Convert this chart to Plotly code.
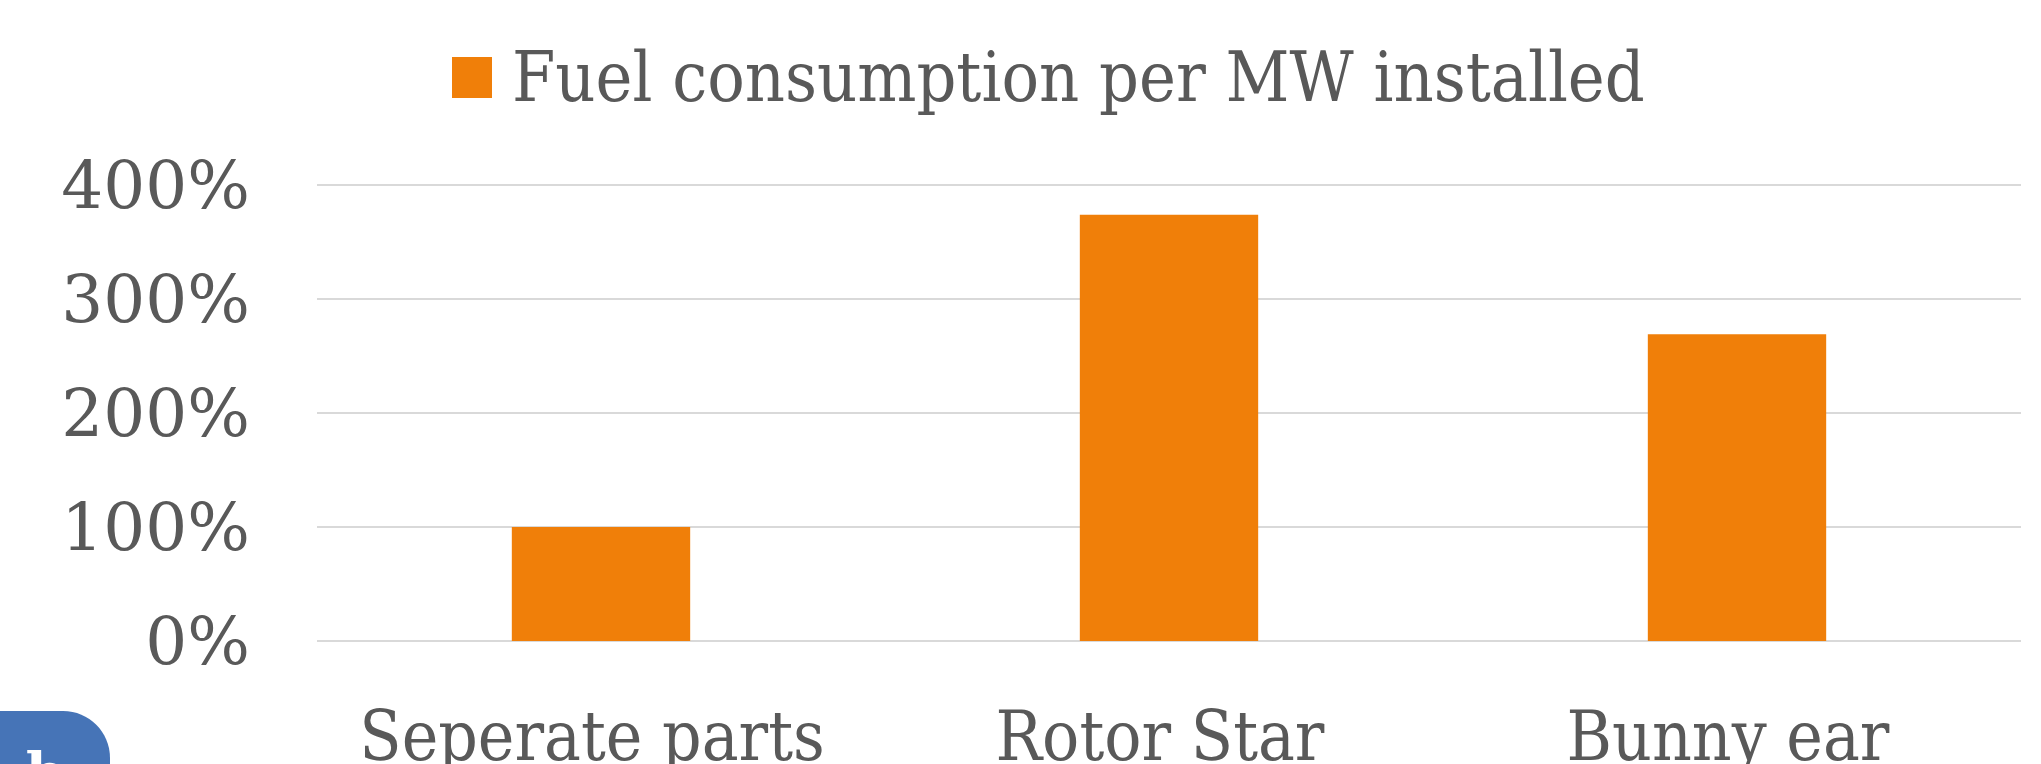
import plotly.graph_objects as go

categories = ["Seperate parts", "Rotor Star", "Bunny ear"]
values = [1.00, 3.74, 2.69]
series_name = "Fuel consumption per MW installed"
tick_values = [0, 1, 2, 3, 4]
tick_labels = ["0%", "100%", "200%", "300%", "400%"]

W, H = 2041, 820
L, R, T, B = 317, 2021, 182, 641
UNIT_PX = 114
FONT = "DejaVu Serif Condensed"
GREY = "#595959"
ORANGE = "#F07F09"
BLUE = "#4674B7"


def px(v):
    return (v - L) / (R - L)


def py(v):
    return (B - v) / (B - T)


fig = go.Figure()
fig.add_trace(go.Bar(
    x=categories, y=values, name=series_name,
    marker=dict(color=ORANGE, line=dict(width=0)),
    width=0.314, showlegend=False,
))
fig.add_trace(go.Scatter(
    x=[None], y=[None], mode="markers", name=series_name,
    marker=dict(symbol="square", size=1, color="rgba(0,0,0,0)", line=dict(width=0)),
    showlegend=True,
))

fig.update_layout(
    width=W, height=H, autosize=False,
    margin=dict(l=L, r=W - R, t=T, b=H - B, pad=0),
    paper_bgcolor="white", plot_bgcolor="white",
    font=dict(family=FONT, color=GREY, size=66),
    showlegend=True,
    legend=dict(orientation="h", x=px(1051), xanchor="center",
                y=py(126), yanchor="bottom",
                font=dict(family=FONT, size=69.4, color=GREY),
                bgcolor="rgba(0,0,0,0)", itemwidth=50),
    xaxis=dict(showgrid=False, showline=False, ticks="", automargin=False,
               tickfont=dict(family=FONT, size=68.8, color=GREY),
               ticklabelstandoff=49, ticklabelshift=-9),
    yaxis=dict(range=[0, (B - T) / UNIT_PX], tickvals=tick_values, ticktext=tick_labels,
               showgrid=True, gridcolor="#D9D9D9", gridwidth=2, automargin=False,
               zeroline=True, zerolinecolor="#D9D9D9", zerolinewidth=2,
               ticks="", showline=False, ticklabelstandoff=66,
               tickfont=dict(family="DejaVu Serif", size=66, color=GREY)),
)

# legend swatch (plotly caps legend marker sizes, so it is drawn as a shape)
fig.add_shape(type="rect", xref="paper", yref="paper", layer="above",
              x0=px(452), x1=px(492), y0=py(98), y1=py(57),
              fillcolor=ORANGE, line=dict(width=0))

fig.add_shape(type="path", xref="paper", yref="paper", layer="above",
              path=f"M {px(-5)} {py(820)} L {px(-5)} {py(711)} L {px(63)} {py(711)} "
                   f"C {px(89)} {py(711)} {px(110)} {py(732)} {px(110)} {py(758)} "
                   f"L {px(110)} {py(820)} Z",
              fillcolor=BLUE, line=dict(width=0))
fig.add_annotation(text="<b>b</b>", xref="paper", yref="paper", x=px(24), y=py(738),
                   xanchor="left", yanchor="top", showarrow=False,
                   font=dict(family="DejaVu Serif", size=56, color="white"))

fig.write_html("out.html", config={"displayModeBar": False},
               post_script="document.body.style.margin='0';document.documentElement.style.overflow='hidden';document.body.style.overflow='hidden';")
